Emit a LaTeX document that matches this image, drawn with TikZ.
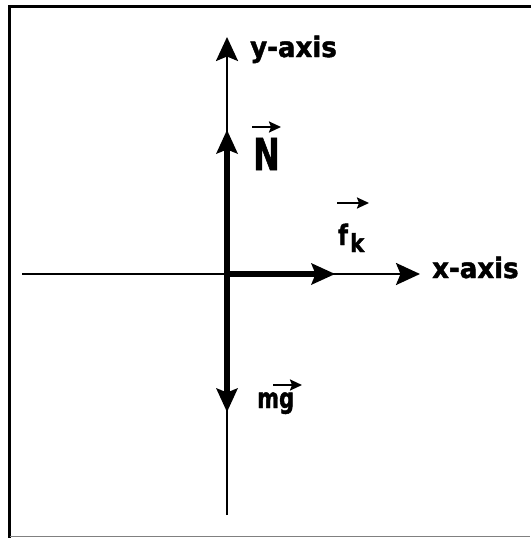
\documentclass[tikz,border=0pt]{standalone}
\usepackage{fontspec}
\setmainfont{DejaVu Sans}
\newfontfamily\lblfont[FakeBold=1.6]{DejaVu Sans Bold}
\usetikzlibrary{arrows.meta}
\begin{document}
\begin{tikzpicture}[x=1pt,y=-1pt,
  headtip/.tip={Stealth[length=24pt,width=22pt,inset=4.5pt]},
  axisline/.style={line width=2.6pt,-headtip},
  forcehead/.style={line width=0pt,-headtip},
  forcebody/.style={line width=5.5pt},
  lbl/.style={anchor=base west,inner sep=0pt,font=\lblfont\fontsize{28}{28}\selectfont},
  overarrow/.style={line width=2.2pt,-{Stealth[length=12pt,width=11pt,inset=2pt]}},
  frameline/.style={line width=3pt,line cap=rect}]
\useasboundingbox (0,0) rectangle (530,538);
% frame
\coordinate (ftl) at (9.5,6.5);
\coordinate (ftr) at (530,6.5);
\coordinate (fbl) at (9.5,536.5);
\coordinate (fbr) at (530,536.5);
\draw[frameline] (ftr) -- (ftl) -- (fbl);
\draw[line width=1.2pt,gray] (fbl) -- (fbr);
% axes
\coordinate (O) at (227,274);
\coordinate (ybot) at (227,515);
\coordinate (ytop) at (227,37);
\coordinate (xleft) at (22,274);
\coordinate (xright) at (420,274);
\draw[axisline] (ybot) -- (ytop);
\draw[axisline] (xleft) -- (xright);
% forces
\coordinate (Ntip) at (227,130);
\coordinate (mgtip) at (227,412);
\coordinate (fktip) at (335,274);
\coordinate (Nbase) at (227,148);
\coordinate (mgbase) at (227,394);
\coordinate (fkbase) at (317,274);
\draw[forcebody] (O) -- (Nbase);
\draw[forcebody] (O) -- (mgbase);
\draw[forcebody] (O) -- (fkbase);
\draw[forcehead] (Nbase) -- (Ntip);
\draw[forcehead] (mgbase) -- (mgtip);
\draw[forcehead] (fkbase) -- (fktip);
% labels
\node[lbl] (ylab) at (250,57) {\scalebox{0.93}[1]{y-axis}};
\node[lbl] (xlab) at (432,278) {\scalebox{0.93}[1]{x-axis}};
\node[lbl,font=\lblfont\fontsize{44}{44}\selectfont] (Nlab) at (253,170) {\scalebox{0.72}[1]{N}};
\coordinate (Na1) at (252,127);
\coordinate (Na2) at (281,127);
\draw[overarrow] (Na1) -- (Na2);
\node[lbl] (flab) at (338,245) {\scalebox{0.8}[1]{f}};
\node[lbl,font=\lblfont\fontsize{25}{25}\selectfont] (klab) at (350,252) {\scalebox{0.85}[1]{k}};
\coordinate (fa1) at (337,203);
\coordinate (fa2) at (369,203);
\draw[overarrow] (fa1) -- (fa2);
\node[lbl] (mglab) at (257,408) {\scalebox{0.75}[1]{mg}};
\coordinate (ga1) at (273,385);
\coordinate (ga2) at (302,385);
\draw[overarrow] (ga1) -- (ga2);
\end{tikzpicture}
\end{document}
